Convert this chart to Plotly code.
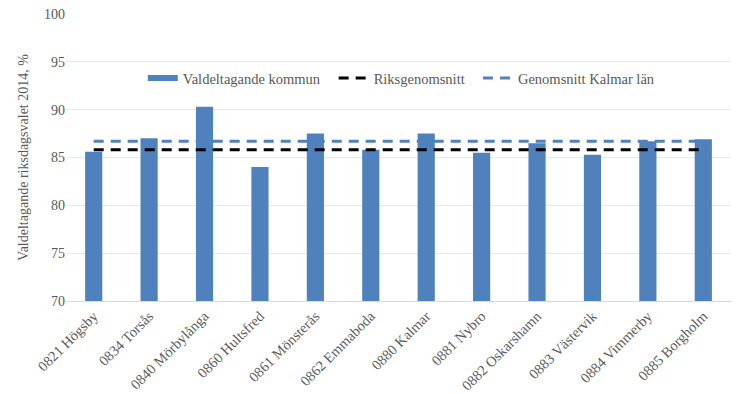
import plotly.graph_objects as go

kommuner = ["0821 Högsby", "0834 Torsås", "0840 Mörbylånga", "0860 Hultsfred",
            "0861 Mönsterås", "0862 Emmaboda", "0880 Kalmar", "0881 Nybro",
            "0882 Oskarshamn", "0883 Västervik", "0884 Vimmerby", "0885 Borgholm"]
valdeltagande = [85.6, 87.0, 90.3, 84.0, 87.5, 85.8, 87.5, 85.5, 86.5, 85.3, 86.7, 86.9]
riksgenomsnitt = [85.8] * len(kommuner)
kalmar_lan = [86.7] * len(kommuner)

ff = "Liberation Serif"
grey = "#595959"
blue = "#4f81bd"

fig = go.Figure()
fig.add_trace(go.Bar(x=kommuner, y=valdeltagande, name="Valdeltagande kommun",
                     marker=dict(color=blue, line=dict(width=0)), width=0.31,
                     showlegend=False))
# legend key for the bars (wide flat rectangle, like the original)
fig.add_trace(go.Scatter(x=[None], y=[None], name="Valdeltagande kommun", mode="lines",
                         line=dict(color=blue, width=6), legend="legend"))
fig.add_trace(go.Scatter(x=kommuner, y=riksgenomsnitt, name="Riksgenomsnitt", mode="lines",
                         line=dict(color="black", width=3, dash="10px,7px"), legend="legend2"))
fig.add_trace(go.Scatter(x=kommuner, y=kalmar_lan, name="Genomsnitt Kalmar län", mode="lines",
                         line=dict(color=blue, width=3, dash="10px,7px"), legend="legend3"))

leg_common = dict(orientation="h", y=0.777, yanchor="middle", xanchor="left",
                  font=dict(family=ff, size=14.5, color=grey),
                  bgcolor="rgba(255,255,255,0)", itemwidth=30)

fig.update_layout(
    width=744, height=394,
    margin=dict(l=66, r=13, t=14, b=93),
    plot_bgcolor="white", paper_bgcolor="white",
    font=dict(family=ff, size=14, color=grey),
    showlegend=True,
    legend=dict(x=0.1155, **leg_common),
    legend2=dict(x=0.4025, **leg_common),
    legend3=dict(x=0.6195, **leg_common),
    xaxis=dict(tickangle=-45, tickfont=dict(family=ff, size=14.5, color=grey),
               showline=True, linecolor="#d9d9d9", linewidth=1, ticks="",
               showgrid=False, automargin=False),
    yaxis=dict(range=[70, 100], dtick=5, showgrid=True, gridcolor="#e8e8e8", gridwidth=1,
               zeroline=False, showline=False, ticks="", automargin=False,
               tickfont=dict(family=ff, size=14, color=grey),
               title=dict(text="Valdeltagande riksdagsvalet 2014, %",
                          font=dict(family=ff, size=14, color=grey), standoff=12)),
)

fig.write_html("out.html", config={"displayModeBar": False},
               post_script="document.body.style.margin='0px';")
